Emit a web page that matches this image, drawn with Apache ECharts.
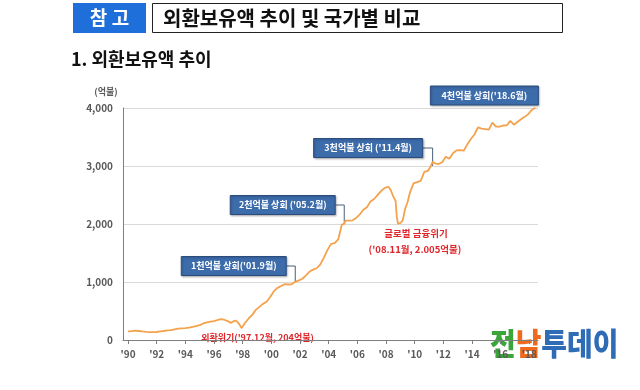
<!DOCTYPE html>
<html>
<head>
<meta charset="utf-8">
<script src="https://cdn.jsdelivr.net/npm/echarts@6/dist/echarts.min.js"></script>
<style>html,body{margin:0;padding:0;background:#fff;}#c{width:640px;height:390px;}</style>
</head>
<body>
<div id="c"></div>
<script>
const dates = ['1990-01','1990-04','1990-07','1990-10','1991-01','1991-04','1991-07','1991-10','1992-01','1992-04','1992-07','1992-10',
'1993-01','1993-04','1993-07','1993-10','1994-01','1994-04','1994-07','1994-10','1995-01','1995-04','1995-07','1995-10',
'1996-01','1996-04','1996-07','1996-10','1997-01','1997-03','1997-05','1997-07','1997-09','1997-10','1997-11','1997-12',
'1998-03','1998-06','1998-09','1998-12','1999-03','1999-06','1999-09','1999-12','2000-03','2000-06','2000-09','2000-12',
'2001-03','2001-06','2001-09','2001-12','2002-03','2002-06','2002-09','2002-12','2003-03','2003-06','2003-09','2003-12',
'2004-03','2004-06','2004-09','2004-12','2005-02','2005-03','2005-06','2005-09','2005-12','2006-03','2006-06','2006-09','2006-12',
'2007-03','2007-06','2007-09','2007-12','2008-03','2008-05','2008-07','2008-09','2008-10','2008-11','2008-12',
'2009-01','2009-03','2009-05','2009-07','2009-09','2009-12','2010-03','2010-06','2010-09','2010-12',
'2011-02','2011-04','2011-06','2011-09','2011-12','2012-03','2012-06','2012-09','2012-12','2013-03','2013-06','2013-09','2013-12',
'2014-03','2014-06','2014-09','2014-12','2015-03','2015-06','2015-09','2015-12','2016-03','2016-06','2016-09','2016-12',
'2017-03','2017-06','2017-09','2017-12','2018-03','2018-06'];
const values = [150,152,160,155,147,140,137,135,138,148,155,165,
171,185,195,200,205,212,225,240,257,285,305,318,
327,345,360,345,320,295,320,335,304,300,244,204,
298,371,433,520,572,623,658,741,838,897,929,962,
957,961,1003,1028,1056,1116,1180,1214,1237,1303,1420,1554,
1657,1670,1736,1991,2003,2057,2057,2064,2104,2165,2245,2290,2390,
2431,2503,2572,2622,2642,2582,2475,2397,2122,2005,2012,
2017,2063,2267,2375,2542,2700,2723,2742,2898,2916,
2977,3072,3045,3034,3064,3161,3124,3220,3270,3274,3264,3369,3465,
3543,3665,3644,3636,3627,3747,3679,3680,3698,3699,3778,3711,
3758,3806,3847,3893,3967,4003];
const xTickYears = [1990,1992,1994,1996,1998,2000,2002,2004,2006,2008,2010,2012,2014,2016,2018];
const yTicks = [0,1000,2000,3000,4000];
const milestoneLabels = ["1천억불 상회('01.9월)", "2천억불 상회 ('05.2월)", "3천억불 상회 ('11.4월)", "4천억불 상회('18.6월)"];
const milestoneDates = ['2001-09','2005-02','2011-04','2018-06'];
const milestoneValues = [1000,2000,3000,4000];
const crisisLabels = ["외환위기('97.12월, 204억불)", "글로벌 금융위기", "('08.11월, 2.005억불)"];
const crisisDates = ['1997-12','2008-11'];
const crisisValues = [204,2005];

function toYear(s){const p=s.split('-');return +p[0]+(+p[1]-1)/12;}
const FONT = '"Noto Sans CJK KR","Noto Sans",sans-serif';
const chart = echarts.init(document.getElementById('c'));
chart.setOption({
  animation:false,
  grid:{left:123,right:102,top:108,bottom:50,containLabel:false},
  xAxis:{type:'value',min:1989.65,max:2018.6,
    axisLine:{show:true,lineStyle:{color:'#7f7f7f',width:1}},
    axisTick:{show:true,customValues:xTickYears,length:4,lineStyle:{color:'#7f7f7f'}},
    axisLabel:{customValues:xTickYears,formatter:v=>"'"+String(Math.round(v)).slice(2),
      color:'#595959',fontSize:10,fontWeight:'bold',fontFamily:FONT,margin:9},
    splitLine:{show:false}},
  yAxis:{type:'value',min:0,max:4000,interval:1000,
    axisLine:{show:true,lineStyle:{color:'#7f7f7f',width:1}},
    axisTick:{show:false},
    axisLabel:{formatter:v=>v.toLocaleString('en-US'),color:'#595959',fontSize:10,fontWeight:'bold',fontFamily:FONT,margin:10},
    splitLine:{show:true,lineStyle:{color:'#d9d9d9',width:1}}},
  series:[{type:'line',data:dates.map((d,i)=>[toYear(d),values[i]]),showSymbol:false,clip:false,
    lineStyle:{color:'#f4a24c',width:1.8},itemStyle:{color:'#f4a24c'}}]
});

const g = [];
// header
g.push({type:'rect',shape:{x:73,y:3,width:73,height:30},style:{fill:'#1f6fdb'}});
g.push({type:'text',style:{text:'참 고',x:109.5,y:18,align:'center',verticalAlign:'middle',fill:'#fff',font:'bold 19px '+FONT}});
g.push({type:'rect',shape:{x:152.5,y:3.5,width:410,height:29},style:{fill:'#fff',stroke:'#222',lineWidth:1}});
g.push({type:'text',style:{text:'외환보유액 추이 및 국가별 비교',x:163,y:18,verticalAlign:'middle',fill:'#111',font:'bold 20px '+FONT}});
g.push({type:'text',style:{text:'1. 외환보유액 추이',x:71,y:59,verticalAlign:'middle',fill:'#111',font:'bold 18px '+FONT}});
g.push({type:'text',style:{text:'(억불)',x:106,y:92,align:'center',verticalAlign:'middle',fill:'#595959',font:'bold 9px '+FONT}});

// milestone boxes
const boxW = [105,105,109,108];
const boxDX = [-9,-9,-10,0];
const boxDY = [-16,-19,-18,0];
milestoneDates.forEach((d,i)=>{
  const p = chart.convertToPixel({gridIndex:0},[toYear(d),milestoneValues[i]]);
  let bx, by, h=19;
  if(i<3){
    const right = p[0]+boxDX[i];
    const midY = p[1]+boxDY[i];
    bx = right-boxW[i]; by = midY-h/2;
    g.push({type:'polyline',shape:{points:[[right,midY],[p[0],midY],[p[0],p[1]]]},style:{stroke:'#4a5f78',lineWidth:1,fill:null}});
  } else {
    bx = p[0]-boxW[i]+3; by = p[1]-22;
  }
  g.push({type:'rect',shape:{x:bx,y:by,width:boxW[i],height:h},style:{fill:'#3d6cab',stroke:'#2b4d7e',lineWidth:1,shadowColor:'rgba(0,0,0,0.25)',shadowBlur:2,shadowOffsetX:1,shadowOffsetY:1}});
  g.push({type:'text',style:{text:milestoneLabels[i],x:bx+boxW[i]/2,y:by+h/2,align:'center',verticalAlign:'middle',fill:'#fff',font:'bold 9px '+FONT}});
});

// crisis labels
const c1 = chart.convertToPixel({gridIndex:0},[toYear(crisisDates[0]),crisisValues[0]]);
g.push({type:'text',style:{text:crisisLabels[0],x:c1[0]+16,y:c1[1]+9,align:'center',verticalAlign:'middle',fill:'#e0262b',font:'bold 9px '+FONT}});
const c2 = chart.convertToPixel({gridIndex:0},[toYear(crisisDates[1]),crisisValues[1]]);
g.push({type:'text',style:{text:crisisLabels[1],x:c2[0]+18,y:c2[1]+10,align:'center',verticalAlign:'middle',fill:'#e0262b',font:'bold 9.5px '+FONT}});
g.push({type:'text',style:{text:crisisLabels[2],x:c2[0]+17,y:c2[1]+26,align:'center',verticalAlign:'middle',fill:'#e0262b',font:'bold 9.5px '+FONT}});

// logo
g.push({type:'text',x:490,y:343,scaleX:0.9,style:{text:'{a|전}{b|남}{c|투데이}',verticalAlign:'middle',
  rich:{a:{fill:'#3aa63a',font:'900 31px '+FONT},b:{fill:'#f06a1e',font:'900 31px '+FONT},c:{fill:'#2e6cb5',font:'900 31px '+FONT}}}});

chart.setOption({graphic:g});
</script>
</body>
</html>
